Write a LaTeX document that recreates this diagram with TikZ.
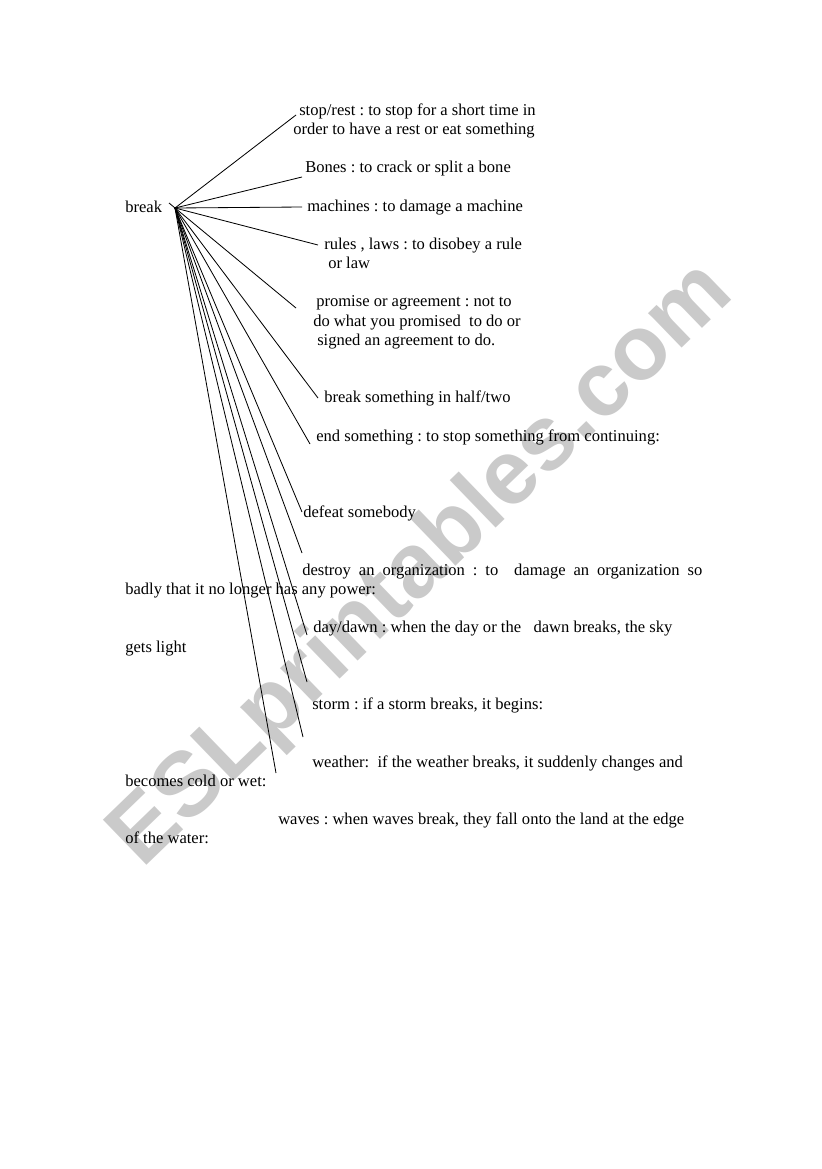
\documentclass[tikz,border=0pt]{standalone}
\usepackage{fontspec}
\setmainfont{Liberation Serif}
\newfontfamily\wmfont{Liberation Sans}
\newlength{\pxu}\setlength{\pxu}{0.7247pt}
\definecolor{wmgray}{RGB}{202,202,202}
\frenchspacing
\begin{document}
\begin{tikzpicture}[x=0.7247pt,y=-0.7247pt,
  lbl/.style={anchor=base west,inner sep=0pt,font=\fontsize{12}{14}\selectfont},
  spoke/.style={draw=black,line width=0.6pt}]
\fill[white] (0,0) rectangle (821,1169);
\useasboundingbox (0,0) rectangle (821,1169);
% watermark
\node[rotate=44,anchor=base,text=wmgray,inner sep=0pt,
  font=\wmfont\bfseries\fontsize{66}{66}\selectfont] (wm) at (439,583) {ESLprintables.com};
% labels
\node[lbl] (break) at (125,212) {break};
\node[lbl] (stop1) at (299,115) {stop/rest : to stop for a short time in};
\node[lbl] (stop2) at (293,134) {order to have a rest or eat something};
\node[lbl] (bones) at (305,172) {Bones : to crack or split a bone};
\node[lbl] (mach) at (307,211) {machines : to damage a machine};
\node[lbl] (rules1) at (324,249) {rules , laws : to disobey a rule};
\node[lbl] (rules2) at (328,268) {or law};
\node[lbl] (prom1) at (316,306) {promise or agreement : not to};
\node[lbl] (prom2) at (313,326) {do what you promised~ to do or};
\node[lbl] (prom3) at (317,345) {signed an agreement to do.};
\node[lbl] (half) at (324,402) {break something in half/two};
\node[lbl] (endst) at (316,441) {end something : to stop something from continuing:};
\node[lbl] (defeat) at (303,517) {defeat somebody};
\node[lbl] (dest1) at (302,575) {\makebox[400\pxu][s]{destroy an organization : to~ damage an organization so}};
\node[lbl] (dest2) at (125,594) {badly that it no longer has any power:};
\node[lbl] (day1) at (313,632) {day/dawn : when the day or the~~ dawn breaks, the sky};
\node[lbl] (day2) at (125,652) {gets light};
\node[lbl] (storm) at (312,709) {storm : if a storm breaks, it begins:};
\node[lbl] (weath1) at (312,767) {weather:~ if the weather breaks, it suddenly changes and};
\node[lbl] (weath2) at (125,786) {becomes cold or wet:};
\node[lbl] (waves1) at (278,824) {waves : when waves break, they fall onto the land at the edge};
\node[lbl] (waves2) at (125,843) {of the water:};
% spokes
\coordinate (hub) at (175,208);
\coordinate (p0) at (169,203);
\coordinate (eStop) at (296,115);
\coordinate (eBones) at (302,177);
\coordinate (eMach) at (302,207);
\coordinate (eRules) at (318,245);
\coordinate (eProm) at (296,308);
\coordinate (eHalf) at (318,398);
\coordinate (eEnd) at (310,444);
\coordinate (eDef) at (302,512);
\coordinate (eDest) at (302,553);
\coordinate (eDay) at (307,635);
\coordinate (eStorm) at (307,682);
\coordinate (eWeath) at (303,737);
\coordinate (eWaves) at (276,773);
\foreach \e in {eStop,eBones,eMach,eRules,eHalf,eEnd,eDef,eDest,eDay,eStorm,eWeath,eWaves}
  \draw[spoke] (hub) -- (\e);
\draw[spoke] (p0) -- (eProm);
\end{tikzpicture}
\end{document}
